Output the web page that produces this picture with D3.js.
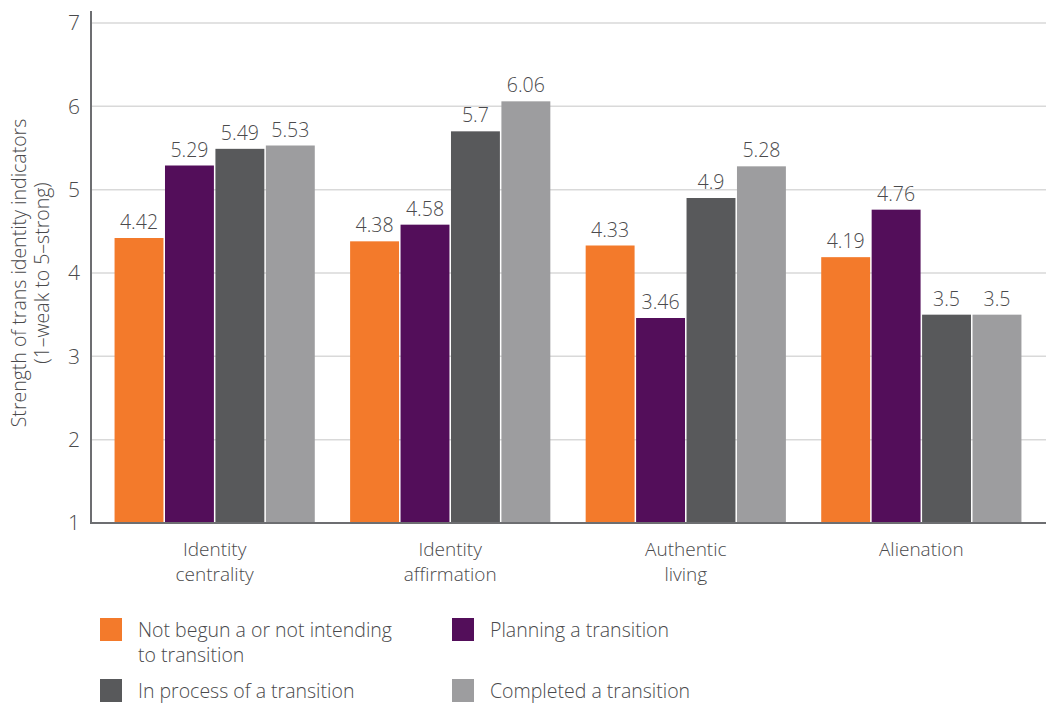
<!DOCTYPE html>
<html>
<head>
<meta charset="utf-8">
<script src="https://cdn.jsdelivr.net/npm/d3@7/dist/d3.min.js"></script>
<style>
  html, body { margin: 0; padding: 0; background: #fff; }
  svg { display: block; font-family: "Open Sans", Lato, sans-serif; }
</style>
</head>
<body>
<svg id="chart" width="1046" height="704"></svg>
<script>
const categories = [["Identity", "centrality"], ["Identity", "affirmation"], ["Authentic", "living"], ["Alienation"]];
const seriesNames = ["Not begun a or not intending to transition", "Planning a transition", "In process of a transition", "Completed a transition"];
const notBegun = [4.42, 4.38, 4.33, 4.19];
const planning = [5.29, 4.58, 3.46, 4.76];
const inProcess = [5.49, 5.7, 4.9, 3.5];
const completed = [5.53, 6.06, 5.28, 3.5];
const yTicks = [1, 2, 3, 4, 5, 6, 7];
const colors = ["#F37A2B", "#530E5A", "#58595B", "#9D9D9F"];

const seriesValues = [notBegun, planning, inProcess, completed];
const catKeys = categories.map(c => c.join(" "));

const svg = d3.select("#chart");
const textColor = "#4A4A4C";
const fw = 300;

const x0 = d3.scaleBand().domain(catKeys).range([91, 1045]).paddingInner(0.15).paddingOuter(0.1);
const x1 = d3.scaleBand().domain(d3.range(seriesNames.length)).range([0, x0.bandwidth()]).paddingInner(0.03);
const y = d3.scaleLinear().domain([1, 7]).range([523, 23]);

// gridlines
svg.append("g").selectAll("line").data(yTicks.filter(t => t > 1)).join("line")
  .attr("x1", 91).attr("x2", 1046)
  .attr("y1", d => y(d)).attr("y2", d => y(d))
  .attr("stroke", "#D9D9D9").attr("stroke-width", 1.5);

// bars
const groups = svg.append("g").selectAll("g").data(catKeys).join("g")
  .attr("transform", d => `translate(${x0(d)},0)`);

groups.each(function(cat, ci) {
  const g = d3.select(this);
  seriesValues.forEach((vals, si) => {
    const v = vals[ci];
    g.append("rect")
      .attr("x", x1(si)).attr("width", x1.bandwidth())
      .attr("y", y(v)).attr("height", y(1) - y(v))
      .attr("fill", colors[si]);
    g.append("text")
      .attr("x", x1(si) + x1.bandwidth() / 2)
      .attr("y", y(v) - 9)
      .attr("text-anchor", "middle")
      .attr("font-size", 19.5)
      .attr("font-weight", fw)
      .attr("fill", textColor)
      .text(v);
  });
});

// axes
const yAxis = d3.axisLeft(y).tickValues(yTicks).tickSize(0).tickPadding(11).tickFormat(d3.format("d"));
const yg = svg.append("g").attr("transform", "translate(91,0)").call(yAxis);
yg.select(".domain").attr("stroke", "#6D6E71").attr("stroke-width", 2)
  .attr("d", `M0,${y(7) - 12}V${y(1)}`);
yg.selectAll("text").attr("font-size", 21).attr("font-weight", fw).attr("fill", textColor).attr("font-family", "'Open Sans', sans-serif");

svg.append("line").attr("x1", 90).attr("x2", 1046).attr("y1", y(1)).attr("y2", y(1))
  .attr("stroke", "#6D6E71").attr("stroke-width", 2);

// category labels
const xl = svg.append("g");
categories.forEach((lines, i) => {
  const cx = x0(catKeys[i]) + x0.bandwidth() / 2;
  lines.forEach((t, li) => {
    xl.append("text").attr("x", cx).attr("y", 556 + li * 25)
      .attr("text-anchor", "middle").attr("font-size", 19).attr("font-weight", fw).attr("fill", textColor).text(t);
  });
});

// y title
const yt = svg.append("text").attr("transform", `translate(26,${273}) rotate(-90)`)
  .attr("text-anchor", "middle").attr("font-size", 19.5).attr("font-weight", fw).attr("fill", textColor);
yt.append("tspan").attr("x", 0).attr("dy", 0).text("Strength of trans identity indicators");
yt.append("tspan").attr("x", 0).attr("dy", 23).text("(1–weak to 5–strong)");

// legend
const legendPos = [[100, 618], [452, 618], [100, 679], [452, 679]];
const legendLines = [["Not begun a or not intending", "to transition"], ["Planning a transition"], ["In process of a transition"], ["Completed a transition"]];
seriesNames.forEach((name, i) => {
  const [lx, ly] = legendPos[i];
  svg.append("rect").attr("x", lx).attr("y", ly).attr("width", 22).attr("height", 23).attr("fill", colors[i]);
  legendLines[i].forEach((t, li) => {
    svg.append("text").attr("x", lx + 38).attr("y", ly + 19 + li * 25)
      .attr("font-size", 19.5).attr("font-weight", fw).attr("fill", textColor).text(t);
  });
});
</script>
</body>
</html>
